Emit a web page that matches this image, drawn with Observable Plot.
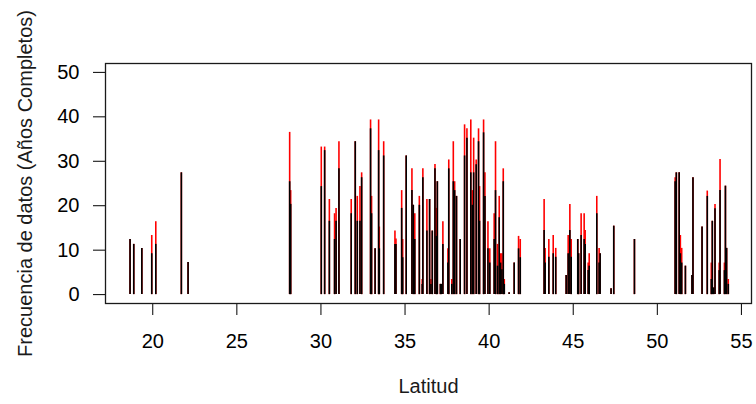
<!DOCTYPE html>
<html>
<head>
<meta charset="utf-8">
<script src="https://cdn.jsdelivr.net/npm/d3@7"></script>
<script src="https://cdn.jsdelivr.net/npm/@observablehq/plot@0.6"></script>
<style>
  html, body { margin: 0; padding: 0; background: #fff; }
  #chart { width: 756px; height: 404px; }
</style>
</head>
<body>
<div id="chart"></div>
<script>
// Latitud de cada estación
const latitud = [
  18.65, 18.87, 19.35, 19.94, 20.18, 21.70, 22.10, 28.14, 28.20,
  30.02, 30.22, 30.50, 30.81, 30.90, 31.07, 31.80, 32.04, 32.16, 32.32, 32.42,
  32.95, 33.01, 33.22, 33.43, 33.47, 33.73, 34.40, 34.46, 34.80, 34.86,
  35.07, 35.41, 35.49, 35.58, 35.85, 36.02, 36.06, 36.30, 36.46, 36.54,
  36.62, 36.78, 36.86, 36.92, 37.10, 37.16, 37.25, 37.55, 37.60, 37.78,
  37.87, 37.95, 38.06, 38.28, 38.54, 38.68, 38.91, 39.00, 39.08, 39.23,
  39.37, 39.43, 39.67, 39.75, 39.93, 40.04, 40.30, 40.38, 40.50, 40.60,
  40.68, 40.76, 40.84, 40.90, 41.19, 41.49, 41.75, 41.85,
  43.27, 43.33, 43.55, 43.81, 43.96, 44.58, 44.70, 44.80, 44.88,
  45.27, 45.32, 45.47, 45.65, 45.71, 45.89, 45.95, 46.40, 46.54, 46.60,
  47.25, 47.41, 48.64,
  51.06, 51.13, 51.30, 51.37, 51.45, 51.67, 52.06, 52.12, 52.66, 52.97,
  53.21, 53.27, 53.35, 53.43, 53.68, 53.73, 53.99, 54.05, 54.12, 54.22
];
// Frecuencia total de datos (rojo)
const total = [
  12.4, 11.3, 10.4, 13.3, 16.4, 27.4, 7.2, 36.5, 23.4,
  33.2, 33.2, 21.4, 18.2, 19.4, 34.4, 21.4, 34.4, 22.1, 24.3, 27.4,
  39.3, 22.1, 10.3, 39.3, 15.2, 34.4, 14.3, 12.5, 23.4, 12.4,
  31.2, 28.3, 20.1, 18.2, 22.1, 3.4, 28.3, 21.4, 21.4, 3.4,
  14.3, 29.3, 19.4, 25.4, 2.3, 2.3, 16.4, 10.3, 30.3, 3.4,
  34.4, 25.4, 22.1, 12.4, 38.2, 37.3, 39.3, 23.4, 35.2, 30.3,
  37.3, 24.3, 39.3, 27.4, 16.4, 10.3, 18.2, 34.4, 11.3, 22.1,
  9.2, 9.2, 28.3, 3.4, 0.4, 7.1, 13.1, 12.4,
  21.4, 10.4, 12.4, 13.3, 10.4, 4.3, 13.3, 20.3, 12.4,
  12.4, 9.2, 18.2, 18.2, 14.4, 7.1, 9.2, 22.1, 10.4, 9.2,
  1.3, 15.4, 12.4,
  26.3, 27.4, 27.4, 13.3, 10.4, 6.4, 4.3, 26.3, 15.2, 23.3,
  7.1, 16.5, 1.5, 20.3, 7.1, 30.4, 7.1, 24.4, 10.4, 3.4
];
// Frecuencia de años completos (negro)
const completos = [
  12.4, 11.3, 10.4, 9.2, 11.3, 27.4, 7.2, 25.4, 20.3,
  24.3, 32.4, 16.5, 12.4, 16.5, 28.3, 18.2, 34.4, 16.5, 16.5, 26.3,
  37.3, 18.2, 10.3, 32.4, 10.3, 31.2, 11.3, 11.3, 19.4, 8.3,
  31.2, 23.4, 20.1, 12.4, 20.1, 2.3, 26.3, 14.3, 21.4, 2.3,
  14.3, 28.3, 13.1, 25.4, 2.3, 2.3, 11.3, 7.1, 28.3, 2.3,
  25.4, 23.4, 22.1, 12.4, 31.2, 35.2, 27.4, 20.1, 27.4, 29.2,
  34.4, 16.5, 36.4, 22.1, 10.3, 7.1, 12.4, 23.4, 6.4, 17.3,
  7.1, 5.6, 25.4, 2.3, 0.4, 7.1, 10.3, 8.3,
  14.4, 7.1, 8.4, 9.2, 8.4, 4.3, 9.2, 14.4, 8.4,
  12.4, 9.2, 13.3, 12.4, 11.3, 5.4, 6.4, 18.2, 7.1, 9.2,
  1.3, 15.4, 12.4,
  25.4, 27.4, 27.4, 9.2, 7.1, 6.4, 4.3, 26.3, 15.2, 22.1,
  3.4, 16.5, 1.5, 19.3, 5.4, 23.4, 5.4, 24.4, 10.4, 2.3
];
const xTicks = [20, 25, 30, 35, 40, 45, 50, 55];
const yTicks = [0, 10, 20, 30, 40, 50];
const xLabel = "Latitud";
const yLabel = "Frecuencia de datos (Años Completos)";

const data = latitud.map((d, i) => ({lat: d, total: total[i], comp: completos[i]}));

const chart = Plot.plot({
  width: 756,
  height: 404,
  marginLeft: 105,
  marginRight: 5,
  marginTop: 63,
  marginBottom: 101,
  style: {
    fontFamily: "'Liberation Sans', Arial, sans-serif",
    fontSize: "20px",
    background: "#ffffff",
    color: "#000000",
    overflow: "visible"
  },
  x: {domain: [17.19, 55.6], ticks: xTicks, tickSize: 12, tickPadding: 18, label: null},
  y: {domain: [-2, 52], ticks: yTicks, tickSize: 12, tickPadding: 14, label: null},
  marks: [
    Plot.ruleX(data, {x: "lat", y1: 0, y2: "total", stroke: "#ff0000", strokeWidth: 1.6}),
    Plot.ruleX(data, {x: "lat", y1: 0, y2: "comp", stroke: "#000000", strokeWidth: 1.6}),
    Plot.frame({stroke: "#1a1a1a", strokeWidth: 1.3}),
    Plot.text([xLabel], {text: d => d, frameAnchor: "bottom", dy: 83, fontSize: 20, textAnchor: "middle", lineAnchor: "middle", fill: "#1a1a1a"}),
    Plot.text([yLabel], {text: d => d, frameAnchor: "left", dx: -80, rotate: -90, fontSize: 20, textAnchor: "middle", lineAnchor: "middle", fill: "#1a1a1a"})
  ]
});
document.getElementById("chart").appendChild(chart);
</script>
</body>
</html>
